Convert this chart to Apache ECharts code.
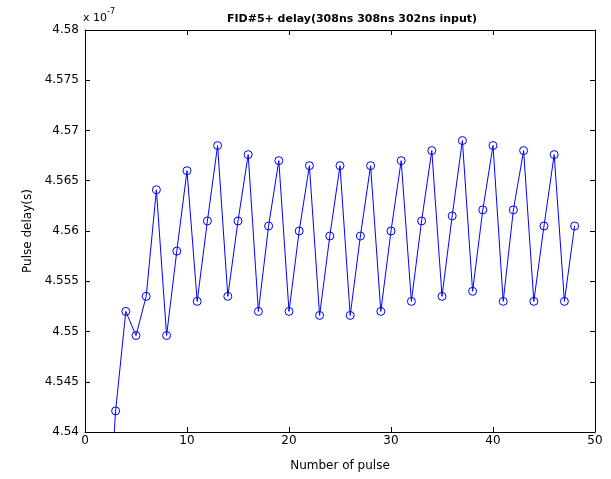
<!DOCTYPE html>
<html>
<head>
<meta charset="utf-8">
<script src="https://cdn.jsdelivr.net/npm/echarts@6/dist/echarts.min.js"></script>
<style>html,body{margin:0;padding:0;background:#fff}#c{width:611px;height:479px}</style>
</head>
<body>
<div id="c"></div>
<script>
const pulseNumbers = [2,3,4,5,6,7,8,9,10,11,12,13,14,15,16,17,18,19,20,21,22,23,24,25,26,27,28,29,30,31,32,33,34,35,36,37,38,39,40,41,42,43,44,45,46,47,48];
const pulseDelay = [4.526,4.5421,4.5520,4.5496,4.5535,4.5641,4.5496,4.5580,4.5660,4.5530,4.5610,4.5685,4.5535,4.5610,4.5676,4.5520,4.5605,4.5670,4.5520,4.5600,4.5665,4.5516,4.5595,4.5665,4.5516,4.5595,4.5665,4.5520,4.5600,4.5670,4.5530,4.5610,4.5680,4.5535,4.5615,4.5690,4.5540,4.5621,4.5685,4.5530,4.5621,4.5680,4.5530,4.5605,4.5676,4.5530,4.5605];
const titleText = 'FID#5+ delay(308ns 308ns 302ns input)';
const xName = 'Number of pulse';
const yName = 'Pulse delay(s)';

const chart = echarts.init(document.getElementById('c'));
const afont = 'DejaVu Sans, sans-serif';
const axisCommon = {
  axisLine: {show: true, onZero: false, lineStyle: {color: '#000', width: 1}},
  axisTick: {show: true, inside: true, length: 5, lineStyle: {color: '#000'}},
  splitLine: {show: false}
};
chart.setOption({
  animation: false,
  backgroundColor: '#fff',
  title: {
    text: titleText, left: 347, top: 9, textAlign: 'center',
    textStyle: {fontFamily: afont, fontSize: 11, fontWeight: 'bold', color: '#000'}
  },
  graphic: [{
    type: 'text', left: 83, top: 8,
    style: {
      text: '{a|x 10}{b|-7}',
      rich: {
        a: {fontFamily: afont, fontSize: 11, fill: '#000', padding: [7,0,0,0]},
        b: {fontFamily: afont, fontSize: 8, fill: '#000', padding: [0,0,5,0]}
      }
    }
  }],
  grid: {left: 85, right: 16, top: 30, bottom: 47, containLabel: false},
  xAxis: [
    Object.assign({
      type: 'value', min: 0, max: 50, interval: 10, position: 'bottom',
      name: xName, nameLocation: 'middle', nameGap: 28,
      nameTextStyle: {fontFamily: afont, fontSize: 12, color: '#000'},
      axisLabel: {fontFamily: afont, fontSize: 12, color: '#000', margin: 3}
    }, axisCommon),
    Object.assign({
      type: 'value', min: 0, max: 50, interval: 10, position: 'top',
      axisLabel: {show: false}
    }, axisCommon)
  ],
  yAxis: [
    Object.assign({
      type: 'value', min: 4.54, max: 4.58, interval: 0.005, position: 'left',
      name: yName, nameLocation: 'middle', nameGap: 51,
      nameTextStyle: {fontFamily: afont, fontSize: 12, color: '#000'},
      axisLabel: {fontFamily: afont, fontSize: 12, color: '#000', margin: 6,
        formatter: v => String(parseFloat(v.toFixed(3)))}
    }, axisCommon),
    Object.assign({
      type: 'value', min: 4.54, max: 4.58, interval: 0.005, position: 'right',
      axisLabel: {show: false}
    }, axisCommon)
  ],
  series: [{
    type: 'line',
    xAxisIndex: 0, yAxisIndex: 0,
    data: pulseNumbers.map((x, i) => [x, pulseDelay[i]]),
    symbol: 'circle', symbolSize: 8, showAllSymbol: true,
    clip: true,
    lineStyle: {color: '#0000ff', width: 1},
    itemStyle: {color: 'rgba(0,0,0,0)', borderColor: '#0000ff', borderWidth: 1}
  }]
});
</script>
</body>
</html>
